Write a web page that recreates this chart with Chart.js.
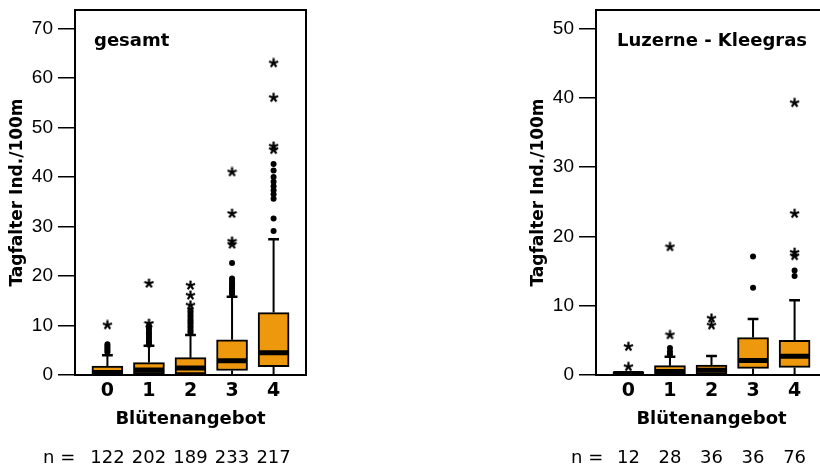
<!DOCTYPE html>
<html>
<head>
<meta charset="utf-8">
<script src="https://cdn.jsdelivr.net/npm/chart.js@4/dist/chart.umd.min.js"></script>
<style>
html, body { margin: 0; padding: 0; background: #fff; overflow: hidden; width: 820px; height: 472px; }
.panel { position: absolute; top: 0; width: 330px; height: 472px; }
canvas { display: block; }
</style>
</head>
<body>
<div class="panel" style="left:0px"><canvas id="c1" width="330" height="472"></canvas></div>
<div class="panel" style="left:521px"><canvas id="c2" width="330" height="472"></canvas></div>
<script>
// ---------- data ----------
const categories = ['0', '1', '2', '3', '4'];

// panel 1: gesamt
const gesamtN        = [122, 202, 189, 233, 217];
const gesamtQ1       = [0.2, 0.2, 0.2, 0.9, 1.7];
const gesamtMedian   = [0.5, 1.0, 1.4, 2.9, 4.5];
const gesamtQ3       = [1.8, 2.5, 3.5, 7.1, 12.6];
const gesamtWhiskLo  = [0, 0, 0, 0, 0];
const gesamtWhiskHi  = [4.0, 5.9, 8.1, 15.8, 27.4];
const gesamtCircles  = [
  [4.6, 5.0, 5.4, 5.8, 6.2],
  [6.1, 6.5, 6.8, 7.3, 7.7, 8.2, 8.6, 9.1, 9.5, 9.9],
  [8.6, 9.0, 9.5, 9.9, 10.4, 10.8, 11.2, 11.7, 12.1, 12.6, 13.0],
  [16.3, 16.7, 17.1, 17.5, 17.9, 18.3, 18.7, 19.2, 19.5, 22.6],
  [29.1, 31.6, 35.6, 36.5, 37.3, 38.1, 39.0, 40.0, 41.3, 42.6]
];
const gesamtStars    = [
  [10.1],
  [10.4, 18.5],
  [14.1, 16.1, 18.1],
  [26.4, 27.0, 32.6, 41.0],
  [45.5, 46.2, 56.0, 63.0]
];
const gesamtYTicks = [0, 10, 20, 30, 40, 50, 60, 70];

// panel 2: Luzerne - Kleegras
const luzN        = [12, 28, 36, 36, 76];
const luzQ1       = [0, 0.1, 0.1, 0.95, 1.1];
const luzMedian   = [0.2, 0.5, 0.7, 2.1, 2.7];
const luzQ3       = [0.45, 1.35, 1.45, 5.4, 5.0];
const luzWhiskLo  = [0, 0, 0, 0, 0];
const luzWhiskHi  = [0.45, 2.65, 2.75, 8.1, 10.8];
const luzCircles  = [[], [3.0, 3.4, 3.9], [], [12.6, 17.1], [14.3, 15.1]];
const luzStars    = [[1.2, 4.1], [5.8, 18.5], [7.2, 8.2], [], [17.2, 17.7, 23.3, 39.3]];
const luzYTicks   = [0, 10, 20, 30, 40, 50];

// ---------- styling ----------
const FONT = "'DejaVu Sans', sans-serif";
const ORANGE = '#EE980D';
const MED_HALF = 0.36;
const CAP_HALF = 0.13;
const X_MIN = -0.78, X_MAX = 4.78;

function makeStar() {
  const c = document.createElement('canvas');
  c.width = 11; c.height = 11;
  const g = c.getContext('2d');
  g.strokeStyle = '#000'; g.lineWidth = 2.2; g.lineCap = 'butt';
  for (let k = 0; k < 5; k++) {
    const a = -Math.PI / 2 + k * 2 * Math.PI / 5;
    g.beginPath();
    g.moveTo(5.5, 5.5);
    g.lineTo(5.5 + 4.8 * Math.cos(a), 5.5 + 4.8 * Math.sin(a));
    g.stroke();
  }
  return c;
}
const STAR = makeStar();

const framePlugin = {
  id: 'frame',
  afterDraw(chart, args, opts) {
    const { ctx, chartArea: a } = chart;
    ctx.save();
    ctx.strokeStyle = '#000'; ctx.lineWidth = 2;
    ctx.strokeRect(a.left, a.top, a.right - a.left, a.bottom - a.top);
    ctx.fillStyle = '#000';
    ctx.font = 'bold 18px ' + FONT;
    ctx.textAlign = 'left'; ctx.textBaseline = 'alphabetic';
    ctx.fillText(opts.title, a.left + opts.titleDx, a.top + 36);
    const s = chart.scales.xn;
    ctx.font = '18px ' + FONT;
    ctx.textBaseline = 'middle';
    ctx.fillText('n =', opts.nX, s.top + s.options.ticks.padding + 18 * 1.2 / 2);
    ctx.restore();
  }
};

function fixPad(s) { s.paddingTop = 0; s.paddingBottom = 0; s.paddingLeft = 0; s.paddingRight = 0; }

function buildPanel(id, p) {
  const boxData = categories.map((c, i) => ({ x: i, y: [p.q1[i], p.q3[i]] }));
  const medData = [], whiskData = [], capData = [], circData = [], starData = [];
  categories.forEach((c, i) => {
    medData.push({ x: i - MED_HALF, y: p.median[i] }, { x: i + MED_HALF, y: p.median[i] }, { x: i + 0.5, y: null });
    if (p.hi[i] > p.q3[i]) {
      whiskData.push({ x: i, y: p.q3[i] }, { x: i, y: p.hi[i] }, { x: i + 0.5, y: null });
      capData.push({ x: i - CAP_HALF, y: p.hi[i] }, { x: i + CAP_HALF, y: p.hi[i] }, { x: i + 0.5, y: null });
    }
    if (p.q1[i] > p.lo[i]) {
      whiskData.push({ x: i, y: p.lo[i] }, { x: i, y: p.q1[i] }, { x: i + 0.5, y: null });
    }
    p.circles[i].forEach(v => circData.push({ x: i, y: v }));
    p.stars[i].forEach(v => starData.push({ x: i, y: v }));
  });

  const lineBase = { type: 'line', pointRadius: 0, borderColor: '#000', spanGaps: false, tension: 0, borderCapStyle: 'butt', fill: false };

  const xTicksFromCats = s => { s.ticks = categories.map((c, i) => ({ value: i })); };

  return new Chart(document.getElementById(id), {
    type: 'bar',
    data: {
      datasets: [
        { ...lineBase, label: 'whisker', data: whiskData, borderWidth: 2, order: 5 },
        { ...lineBase, label: 'cap', data: capData, borderWidth: 2.5, order: 4 },
        { type: 'bar', label: 'box', data: boxData, backgroundColor: ORANGE, borderColor: '#000', borderWidth: 2,
          borderSkipped: false, barThickness: 31, order: 3 },
        { ...lineBase, label: 'median', data: medData, borderWidth: 5, order: 2 },
        { type: 'line', label: 'circles', data: circData, showLine: false, pointStyle: 'circle', pointRadius: 3,
          pointBackgroundColor: '#000', pointBorderColor: '#000', pointBorderWidth: 0, order: 1 },
        { type: 'line', label: 'stars', data: starData, showLine: false, pointStyle: STAR, pointRadius: 5, order: 0 }
      ]
    },
    options: {
      responsive: false,
      animation: false,
      events: [],
      layout: { padding: { left: 0, top: 10, right: 24, bottom: 0 } },
      plugins: {
        legend: { display: false },
        tooltip: { enabled: false },
        frame: { title: p.title, titleDx: p.titleDx, nX: p.nX }
      },
      scales: {
        x: {
          type: 'linear', position: 'bottom', min: X_MIN, max: X_MAX, offset: false, weight: 0,
          afterBuildTicks: xTicksFromCats,
          ticks: { callback: v => categories[v], font: { family: FONT, size: 19, weight: 'bold' }, color: '#000',
                   padding: 5, maxRotation: 0, autoSkip: false },
          grid: { display: false, drawTicks: false, tickLength: 0 }, border: { display: false },
          title: { display: true, text: 'Blütenangebot', font: { family: FONT, size: 18, weight: 'bold' }, color: '#000',
                   padding: 0 },
          afterFit: s => { s.height = 55; fixPad(s); }
        },
        xn: {
          type: 'linear', axis: 'x', position: 'bottom', min: X_MIN, max: X_MAX, offset: false, weight: 10,
          afterBuildTicks: xTicksFromCats,
          ticks: { callback: v => p.n[v], font: { family: FONT, size: 18 }, color: '#000', padding: 18,
                   maxRotation: 0, autoSkip: false },
          grid: { display: false, drawTicks: false, tickLength: 0 }, border: { display: false },
          afterFit: s => { s.height = 42; fixPad(s); }
        },
        y: {
          min: 0, max: p.yMax,
          afterBuildTicks: s => { s.ticks = p.yTicks.map(v => ({ value: v })); },
          ticks: { font: { family: "'Liberation Sans', Arial, sans-serif", size: 19 }, color: '#000', padding: 5 },
          grid: { drawOnChartArea: false, drawTicks: true, tickLength: 17, color: '#000', lineWidth: 1.5 },
          border: { display: false },
          title: { display: true, text: 'Tagfalter Ind./100m', font: { family: FONT, size: 17, weight: 'bold' },
                   color: '#000', padding: { top: 7, bottom: 0 } },
          afterFit: s => { s.width = 75; fixPad(s); }
        }
      }
    },
    plugins: [framePlugin]
  });
}

buildPanel('c1', {
  title: 'gesamt', titleDx: 19, nX: 43,
  n: gesamtN, q1: gesamtQ1, median: gesamtMedian, q3: gesamtQ3, lo: gesamtWhiskLo, hi: gesamtWhiskHi,
  circles: gesamtCircles, stars: gesamtStars, yTicks: gesamtYTicks, yMax: 73.7
});
buildPanel('c2', {
  title: 'Luzerne - Kleegras', titleDx: 21, nX: 50,
  n: luzN, q1: luzQ1, median: luzMedian, q3: luzQ3, lo: luzWhiskLo, hi: luzWhiskHi,
  circles: luzCircles, stars: luzStars, yTicks: luzYTicks, yMax: 52.7
});
</script>
</body>
</html>
